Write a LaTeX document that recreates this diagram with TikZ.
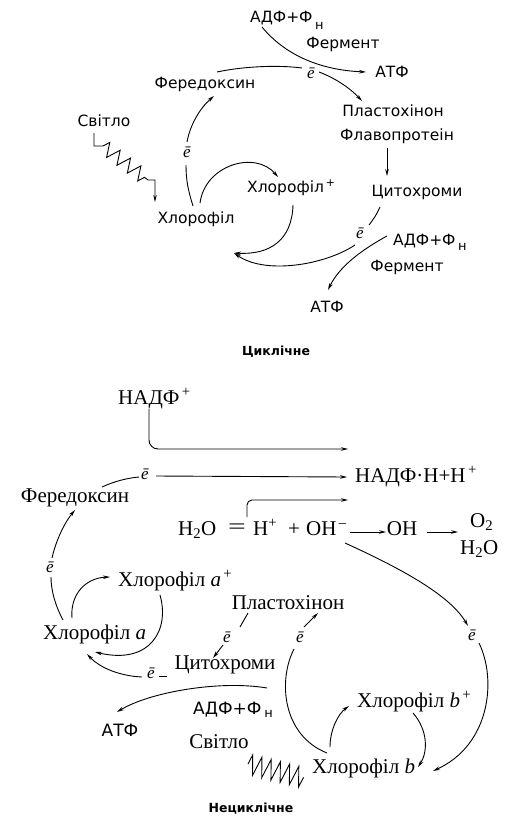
\documentclass[tikz,border=0pt]{standalone}
\usepackage{fontspec}
\setmainfont{Liberation Serif}
\newfontfamily\sansf{DejaVu Sans}
\usetikzlibrary{arrows.meta,decorations.pathmorphing}
\newcommand{\subN}[1]{\raisebox{-#1}{\fontsize{13}{15}\selectfont н}}
\begin{document}
\begin{tikzpicture}[x=1pt,y=-1pt,
  sl/.style={font=\sansf\fontsize{15.5}{18}\selectfont, inner sep=0pt},
  sb/.style={font=\sansf\fontsize{17}{20}\selectfont, inner sep=0pt},
  sr/.style={font=\fontsize{21}{24}\selectfont, inner sep=0pt},
  el/.style={font=\itshape\fontsize{17}{20}\selectfont, inner sep=0pt},
  ttl/.style={font=\sansf\bfseries\fontsize{12.5}{14}\selectfont, inner sep=0pt},
  conn/.style={line width=0.9pt},
  arr/.style={conn, -{Stealth[length=7pt,width=3.6pt]}},
  zz/.style={decorate, decoration={zigzag, segment length=13pt, amplitude=7pt}}]
\useasboundingbox (0,0) rectangle (505,835);
% ================= cyclic =================
\node[sl, anchor=base west] (adf1) at (250,22) {АДФ+Ф\,\subN{7pt}};
\node[sl] (ferm1) at (343,44) {Фермент};
\node[sl] (atf1) at (392,72) {АТФ};
\node[el] (e1) at (311,73) {ē};
\node[sl] (fer1) at (205,84) {Фередоксин};
\node[sl] (plast1) at (393,111) {Пластохінон};
\node[sl] (flavo1) at (397,136) {Флавопротеін};
\node[sl] (svit1) at (104,121) {Світло};
\node[el] (e2) at (187,152) {ē};
\node[sl, anchor=base west] (chlp) at (247,192) {Хлорофіл\textsuperscript{\,+}};
\node[sl] (cyt1) at (417,192) {Цитохроми};
\node[sl] (chl) at (196,219) {Хлорофіл};
\node[el] (e3) at (360,233) {ē};
\node[sl, anchor=base west] (adf2) at (393,245) {АДФ+Ф\,\subN{5pt}};
\node[sl] (ferm2) at (407,267) {Фермент};
\node[sl] (atf2) at (327,307) {АТФ};
\node[ttl] (cycl) at (276,352) {Циклічне};

\coordinate (c1) at (262,27);
\coordinate (c2) at (366,72);
\draw[arr] (c1) .. controls (285,55) and (320,70) .. (c2);
\coordinate (f1a) at (217,72);
\coordinate (e1a) at (302,68);
\draw[conn] (f1a) .. controls (245,66) and (280,65) .. (e1a);
\coordinate (e1b) at (319,72);
\coordinate (p1a) at (362,101);
\draw[arr] (e1b) .. controls (335,78) and (350,88) .. (p1a);
\coordinate (fl1) at (387,148);
\coordinate (cy1) at (387,176);
\draw[arr] (fl1) -- (cy1);
\coordinate (cy1b) at (380,207);
\coordinate (e3a) at (369,225);
\draw[conn] (cy1b) .. controls (377,214) and (373,220) .. (e3a);
\coordinate (e3b) at (355,245);
\coordinate (junc) at (234,253);
\draw[arr] (e3b) .. controls (325,265) and (265,275) .. (junc);
\coordinate (chpb) at (293,205);
\draw[arr] (chpb) .. controls (292,240) and (270,255) .. (junc);
\coordinate (chla1) at (200,203);
\coordinate (chpa) at (278,177);
\draw[arr] (chla1) .. controls (205,165) and (255,150) .. (chpa);
\coordinate (chlb1) at (193,206);
\coordinate (e2a) at (186,165);
\draw[conn] (chlb1) .. controls (188,190) and (186,180) .. (e2a);
\coordinate (e2b) at (187,142);
\coordinate (fer1b) at (214,96);
\draw[arr] (e2b) .. controls (190,125) and (200,108) .. (fer1b);
\coordinate (z1) at (94,133);
\coordinate (z2) at (155,202);
\draw[arr] (z1) -- (94,146) -- (103,146) decorate[zz]{ -- (148,180)} -- (155,180) -- (z2);
\coordinate (adf2a) at (387,236);
\coordinate (atf2a) at (328,290);
\draw[arr] (adf2a) .. controls (365,248) and (340,265) .. (atf2a);

% ================= non-cyclic =================
\node[sr, anchor=base west] (nadf) at (118,404) {НАДФ\textsuperscript{\,+}};
\node[el] (e4) at (145,474) {ē};
\node[sr, anchor=base west] (nadfh) at (355,482) {НАДФ·Н+Н\textsuperscript{\,+}};
\node[sr] (fer2) at (75,498) {Фередоксин};
\node[sr, anchor=base west] (h2o) at (178,535) {H\textsubscript{2}O};
\node[sr, xscale=1.5] (eqs) at (237,529) {=};
\node[sr, anchor=base west] (hp) at (253,535) {H\textsuperscript{+}};
\node[sr, anchor=base] (plus) at (294,535) {+};
\node[sr, anchor=base west] (ohm1) at (306,535) {OH\textsuperscript{\,–}};
\node[sr, anchor=base] (oh) at (402,535) {OH};
\node[sr, anchor=base west] (o2) at (470,527) {O\textsubscript{2}};
\node[sr, anchor=base west] (h2o2) at (460,554) {H\textsubscript{2}O};
\node[el] (e5) at (50,567) {ē};
\node[sr, anchor=base west] (chlap) at (118,586) {Хлорофіл \textit{a}\textsuperscript{\,+}};
\node[sr] (plast2) at (288,603) {Пластохінон};
\node[sr, anchor=base west] (chla) at (43,639) {Хлорофіл \textit{a}};
\node[el] (e6) at (227,637) {ē};
\node[el] (e7) at (300,637) {ē};
\node[el] (e8) at (472,635) {ē};
\node[sr] (cyt2) at (225,665) {Цитохроми};
\node[el] (e9) at (151,673) {ē};
\node[sr, anchor=base west] (chlbp) at (357,707) {Хлорофіл \textit{b}\textsuperscript{\,+}};
\node[sb, anchor=base west] (adf3) at (193,714) {АДФ+Ф\,\subN{3pt}};
\node[sb] (atf3) at (120,730) {АТФ};
\node[sr] (svit2) at (219,742) {Світло};
\node[sr, anchor=base west] (chlb) at (312,773) {Хлорофіл \textit{b}};
\node[ttl] (ncycl) at (251,809) {Нециклічне};

\coordinate (n1) at (149,409);
\coordinate (n2) at (348,449);
\draw[arr, rounded corners=9pt] (n1) |- (n2);
\coordinate (e4b) at (156,476);
\coordinate (nh) at (347,477);
\draw[arr] (e4b) -- (nh);
\coordinate (f2a) at (102,487);
\coordinate (e4a) at (139,477);
\draw[conn] (f2a) .. controls (115,481) and (128,478) .. (e4a);
\coordinate (w1) at (247,517);
\coordinate (w2) at (348,500);
\draw[arr, rounded corners=5pt] (w1) |- (w2);
\coordinate (ohr) at (350,532);
\coordinate (oha) at (386,532);
\draw[arr] (ohr) -- (oha);
\coordinate (ohb) at (427,532);
\coordinate (o2a) at (458,532);
\draw[arr] (ohb) -- (o2a);
\coordinate (ohl) at (345,543);
\coordinate (e8a) at (468,626);
\draw[arr] (ohl) .. controls (400,568) and (450,595) .. (e8a);
\coordinate (e8b) at (479,643);
\coordinate (chlbr) at (433,771);
\draw[arr] (e8b) .. controls (497,680) and (490,745) .. (chlbr);
\coordinate (bp1) at (413,713);
\coordinate (bp2) at (418,767);
\draw[arr] (bp1) .. controls (428,730) and (428,752) .. (bp2);
\coordinate (b1) at (330,747);
\coordinate (b2) at (349,706);
\draw[arr] (b1) .. controls (330,730) and (338,714) .. (b2);
\coordinate (b3) at (327,753);
\coordinate (e7a) at (294,649);
\draw[conn] (b3) .. controls (282,735) and (278,680) .. (e7a);
\coordinate (e7b) at (304,627);
\coordinate (pl2) at (318,613);
\draw[arr] (e7b) -- (pl2);
\coordinate (pl2a) at (248,613);
\coordinate (e6a) at (240,627);
\draw[conn] (pl2a) -- (e6a);
\coordinate (e6b) at (223,645);
\coordinate (cy2a) at (213,658);
\draw[arr] (e6b) -- (cy2a);
\coordinate (cy2l) at (167,676);
\coordinate (e9r) at (159,676);
\draw[conn] (cy2l) -- (e9r);
\coordinate (e9l) at (142,677);
\coordinate (chla2) at (87,654);
\draw[arr] (e9l) .. controls (120,676) and (100,668) .. (chla2);
\coordinate (ap1) at (160,595);
\coordinate (chla3) at (95,652);
\draw[arr] (ap1) .. controls (170,630) and (150,665) .. (chla3);
\coordinate (a1) at (72,618);
\coordinate (ap2) at (110,577);
\draw[arr] (a1) .. controls (70,595) and (85,578) .. (ap2);
\coordinate (a2) at (63,620);
\coordinate (e5a) at (51,577);
\draw[conn] (a2) .. controls (55,605) and (51,590) .. (e5a);
\coordinate (e5b) at (52,558);
\coordinate (f2b) at (75,510);
\draw[arr] (e5b) .. controls (56,540) and (65,522) .. (f2b);
\coordinate (cy2b) at (267,688);
\coordinate (atf3a) at (117,712);
\draw[arr] (cy2b) .. controls (220,680) and (150,692) .. (atf3a);
\coordinate (zz1) at (248,764);
\coordinate (zz2) at (304,778);
\draw[conn, decorate, decoration={zigzag, segment length=9.5pt, amplitude=10pt}] (zz1) -- (zz2);
\end{tikzpicture}
\end{document}
